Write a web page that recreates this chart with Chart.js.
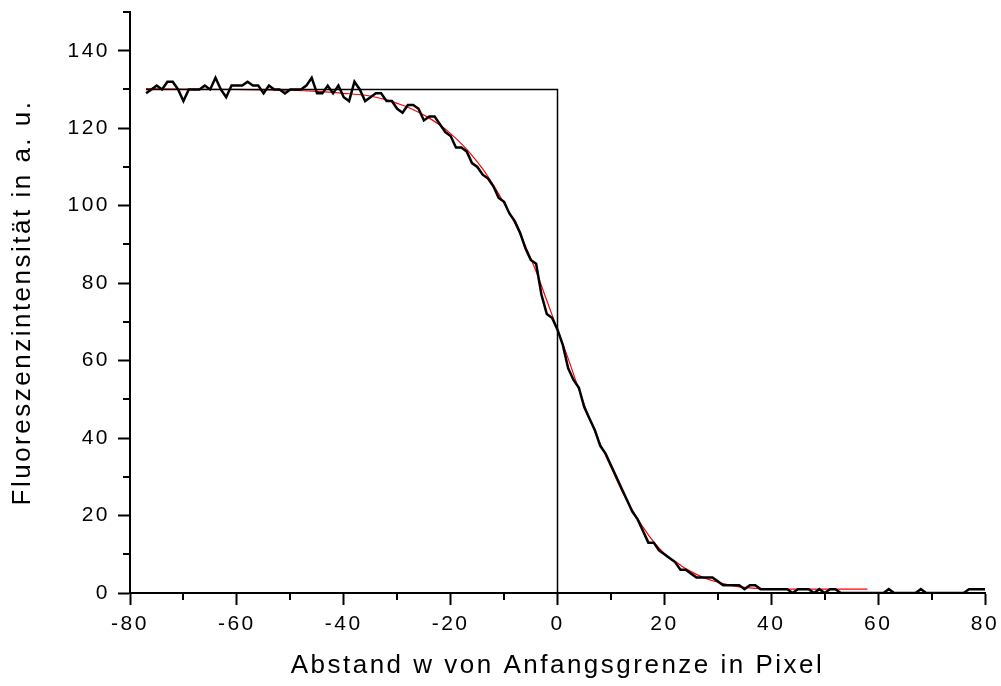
<!DOCTYPE html>
<html>
<head>
<meta charset="utf-8">
<script src="https://cdn.jsdelivr.net/npm/chart.js@4/dist/chart.umd.min.js"></script>
<style>
  html, body { margin: 0; padding: 0; background: #fff; }
  #wrap { width: 1001px; height: 686px; }
</style>
</head>
<body>
<div id="wrap"><canvas id="chart"></canvas></div>
<script>
// measured profile (black), one value per pixel position
const positions = [];
for (let p = -77; p <= 80; p++) positions.push(p);
const intensity = [
  129, 130, 131, 130, 132, 132, 130, 127, 130, 130,
  130, 131, 130, 133, 130, 128, 131, 131, 131, 132,
  131, 131, 129, 131, 130, 130, 129, 130, 130, 130,
  131, 133, 129, 129, 131, 129, 131, 128, 127, 132,
  130, 127, 128, 129, 129, 127, 127, 125, 124, 126,
  126, 125, 122, 123, 123, 121, 119, 118, 115, 115,
  114, 111, 110, 108, 107, 105, 102, 101, 98, 96,
  93, 89, 86, 85, 77, 72, 71, 68, 64, 58,
  55, 53, 48, 45, 42, 38, 36, 33, 30, 27,
  24, 21, 19, 16, 13, 13, 11, 10, 9, 8,
  6, 6, 5, 4, 4, 4, 4, 3, 2, 2,
  2, 2, 1, 2, 2, 1, 1, 1, 1, 1,
  1, 0, 1, 1, 1, 0, 1, 0, 1, 1,
  0, 0, 0, 0, 0, 0, 0, 0, 0, 1,
  0, 0, 0, 0, 0, 1, 0, 0, 0, 0,
  0, 0, 0, 0, 1, 1, 1, 1
];

// fitted curve (red)
const fitX = [-77, -70, -60, -50, -45, -40, -36, -34, -32, -30, -28, -26, -24, -22, -20,
  -18, -16, -14, -12, -10, -8, -6, -4, -2, 0, 2, 4, 6, 8, 10, 12, 14, 16, 18, 20,
  22, 24, 26, 28, 30, 32, 34, 36, 38, 40, 44, 50, 58];
const fitY = [130.2, 130.1, 130, 129.8, 129.5, 129, 128.5, 128, 127.3, 126.4, 125.4, 124.1, 122.6, 120.8, 118.6,
  116, 113, 109.5, 105.3, 100.6, 95.5, 89.5, 83, 75.5, 68, 60.5, 52.5, 45, 38.5, 32.5, 26.5, 21.5, 17, 13.2, 10.2,
  8.2, 6.3, 4.8, 3.6, 2.8, 2.1, 1.6, 1.3, 1.1, 1.0, 1.0, 1.0, 1.0];

// boundary marker
const markX = [-77, 0, 0];
const markY = [130, 130, 0];

const xTicks = [-80, -60, -40, -20, 0, 20, 40, 60, 80];
const xMinor = [-70, -50, -30, -10, 10, 30, 50, 70];
const yMinor = [10, 30, 50, 70, 90, 110, 130, 150];

const toPoints = (xs, ys) => xs.map((x, i) => ({ x: x, y: ys[i] }));

const FONT = "'Liberation Sans', Arial, sans-serif";

// the original export has wide letter spacing on all texts
const spacing = {
  id: 'spacing',
  beforeUpdate(chart) { chart.ctx.letterSpacing = '2.5px'; },
  beforeLayout(chart) { chart.ctx.letterSpacing = '2.5px'; },
  beforeDraw(chart) { chart.ctx.letterSpacing = '2.5px'; }
};

const minorTicks = {
  id: 'minorTicks',
  afterDraw(chart) {
    const ctx = chart.ctx;
    const xs = chart.scales.x;
    const ys = chart.scales.y;
    const area = chart.chartArea;
    ctx.save();
    ctx.strokeStyle = '#000';
    ctx.lineWidth = 2;
    ctx.beginPath();
    xMinor.forEach(v => {
      const px = Math.round(xs.getPixelForValue(v));
      ctx.moveTo(px, area.bottom);
      ctx.lineTo(px, area.bottom + 7);
    });
    yMinor.forEach(v => {
      const py = Math.round(ys.getPixelForValue(v));
      ctx.moveTo(area.left, py);
      ctx.lineTo(area.left - 7, py);
    });
    ctx.stroke();
    ctx.restore();
  }
};

new Chart(document.getElementById('chart'), {
  type: 'line',
  data: {
    datasets: [{
      label: 'Grenze',
      data: toPoints(markX, markY),
      borderColor: '#000',
      borderWidth: 1.5,
      pointRadius: 0,
      tension: 0
    }, {
      label: 'Messung',
      data: toPoints(positions, intensity),
      borderColor: '#000',
      borderWidth: 2.5,
      pointRadius: 0,
      tension: 0
    }, {
      label: 'Fit',
      data: toPoints(fitX, fitY),
      borderColor: '#ff0000',
      borderWidth: 1.2,
      pointRadius: 0,
      cubicInterpolationMode: 'monotone'
    }]
  },
  options: {
    responsive: true,
    maintainAspectRatio: false,
    animation: false,
    layout: { padding: { top: 12, right: 16, left: 0, bottom: 0 } },
    plugins: {
      legend: { display: false },
      tooltip: { enabled: false }
    },
    scales: {
      x: {
        type: 'linear',
        min: -80,
        max: 80,
        afterBuildTicks: scale => { scale.ticks = xTicks.map(v => ({ value: v })); },
        afterFit: scale => {
          scale.height = 93;
          scale.paddingLeft = 0;
          scale.paddingRight = 0;
        },
        border: { display: true, color: '#000', width: 2 },
        grid: { display: true, drawOnChartArea: false, drawTicks: true, tickLength: 12, tickColor: '#000', tickWidth: 2 },
        ticks: { color: '#000', font: { family: FONT, size: 21 }, padding: 7, maxRotation: 0 },
        title: {
          display: true,
          text: 'Abstand w von Anfangsgrenze in Pixel',
          color: '#000',
          font: { family: FONT, size: 26 },
          padding: { top: 0, bottom: 5 }
        }
      },
      y: {
        min: 0,
        max: 150,
        ticks: { stepSize: 20, includeBounds: false, color: '#000', font: { family: FONT, size: 21 }, padding: 8 },
        afterFit: scale => {
          scale.width = 130;
          scale.paddingTop = 0;
          scale.paddingBottom = 0;
        },
        border: { display: true, color: '#000', width: 2 },
        grid: { display: true, drawOnChartArea: false, drawTicks: true, tickLength: 12, tickColor: '#000', tickWidth: 2 },
        title: {
          display: true,
          text: 'Fluoreszenzintensität in a. u.',
          color: '#000',
          font: { family: FONT, size: 26 },
          padding: { top: 7, bottom: 0 }
        }
      }
    }
  },
  plugins: [spacing, minorTicks]
});
</script>
</body>
</html>
